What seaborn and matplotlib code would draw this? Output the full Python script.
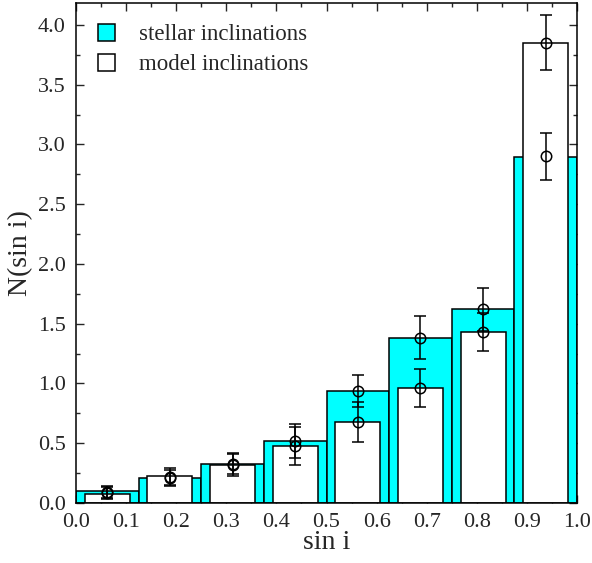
import numpy as np
import pandas as pd
import matplotlib
matplotlib.use("Agg")
import matplotlib.pyplot as plt
from matplotlib.patches import Patch
from matplotlib.ticker import MultipleLocator
import seaborn as sns

# ---- data ----
bin_centers = [0.0625, 0.1875, 0.3125, 0.4375, 0.5625, 0.6875, 0.8125, 0.9375]
stellar = [0.10, 0.21, 0.33, 0.52, 0.937, 1.383, 1.623, 2.898]
model = [0.073, 0.228, 0.315, 0.477, 0.678, 0.962, 1.431, 3.85]
stellar_pts = [0.09, 0.21, 0.33, 0.52, 0.937, 1.383, 1.623, 2.90]
stellar_err = [0.05, 0.07, 0.09, 0.14, 0.13, 0.18, 0.18, 0.20]
model_pts = [0.08, 0.22, 0.32, 0.48, 0.678, 0.962, 1.431, 3.85]
model_err = [0.05, 0.07, 0.09, 0.16, 0.17, 0.16, 0.16, 0.23]
x_ticks = [0.0, 0.1, 0.2, 0.3, 0.4, 0.5, 0.6, 0.7, 0.8, 0.9, 1.0]
y_ticks = [0.0, 0.5, 1.0, 1.5, 2.0, 2.5, 3.0, 3.5, 4.0]

sns.set_style("ticks")
plt.rcParams['font.family'] = ['Liberation Serif', 'DejaVu Serif']

fig = plt.figure(figsize=(5.92, 5.63), dpi=100)
ax = fig.add_axes([76/592, 60/563, (577-76)/592, (503-3)/563])

df_s = pd.DataFrame({"x": bin_centers, "y": stellar})
df_m = pd.DataFrame({"x": bin_centers, "y": model})

sns.barplot(data=df_s, x="x", y="y", native_scale=True, width=1.0,
            color="#00FFFF", saturation=1, edgecolor="black", linewidth=1.1,
            errorbar=None, ax=ax)
sns.barplot(data=df_m, x="x", y="y", native_scale=True, width=0.72,
            color="white", saturation=1, edgecolor="black", linewidth=1.1,
            errorbar=None, ax=ax)

for pts, err in [(stellar_pts, stellar_err), (model_pts, model_err)]:
    ax.errorbar(bin_centers, pts, yerr=err, fmt='o', mfc='none', mec='black',
                ecolor='black', ms=7.5, mew=1.1, elinewidth=1.1, capsize=4,
                capthick=1.1, zorder=5)

ax.set_xlim(0, 1.0)
ax.set_ylim(0, 4.184)
ax.set_xticks(x_ticks)
ax.set_xticklabels([f"{t:.1f}" for t in x_ticks])
ax.set_yticks(y_ticks)
ax.set_yticklabels([f"{t:.1f}" for t in y_ticks])
ax.xaxis.set_minor_locator(MultipleLocator(0.05))
ax.yaxis.set_minor_locator(MultipleLocator(0.25))
ax.tick_params(which='both', direction='in', top=True, right=True,
               labelsize=16)
ax.tick_params(axis='x', which='major', pad=7)
ax.tick_params(axis='y', which='major', pad=7.5)
ax.tick_params(which='major', length=6, width=1)
ax.tick_params(which='minor', length=3, width=1)
for s in ax.spines.values():
    s.set_linewidth(1.1)
    s.set_color('black')

ax.set_xlabel("sin i", fontsize=20, labelpad=-1)
ax.set_ylabel("N(sin i)", fontsize=20, labelpad=3)

handles = [Patch(facecolor="#00FFFF", edgecolor="black", linewidth=1.1),
           Patch(facecolor="white", edgecolor="black", linewidth=1.1)]
ax.legend(handles, ["stellar inclinations", "model inclinations"],
          loc="upper left", frameon=False, fontsize=16.5, handlelength=0.75,
          handleheight=0.75, handletextpad=1.05, borderaxespad=0,
          borderpad=0, bbox_to_anchor=(22/501, 1-21/500), labelspacing=0.38)

fig.savefig("out.png", dpi=100)
